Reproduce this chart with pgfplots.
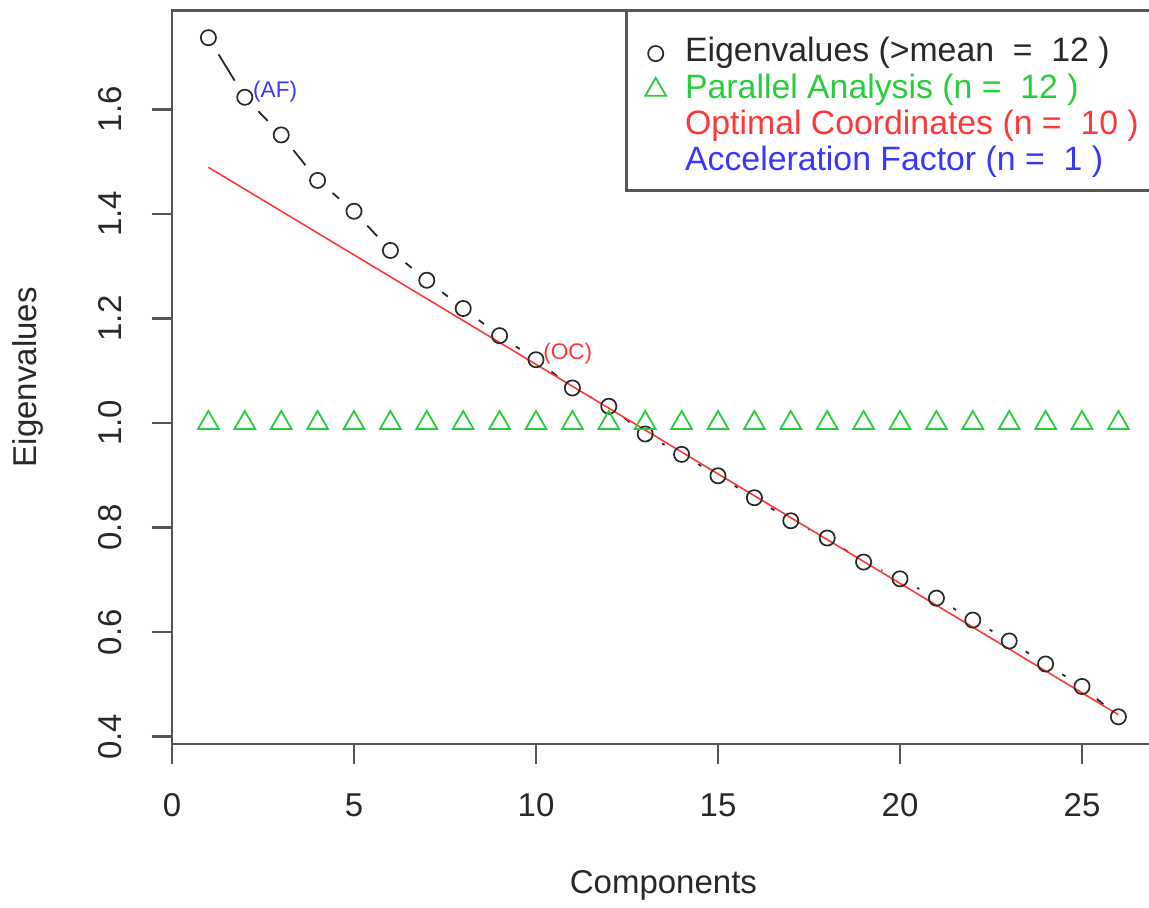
\documentclass[border=0pt]{standalone}
\usepackage{fontspec}
\setmainfont{Liberation Sans}
\usepackage{pgfplots}
\usepackage{pgfplotstable}
\pgfplotsset{compat=1.18}

\definecolor{axgray}{RGB}{85,85,85}
\definecolor{txt}{RGB}{40,40,40}
\definecolor{pagreen}{RGB}{40,205,60}
\definecolor{ocred}{RGB}{255,55,55}
\definecolor{afblue}{RGB}{55,55,255}

% eigenvalues (circles)
\pgfplotstableread{
x y
1 1.737
2 1.623
3 1.551
4 1.464
5 1.405
6 1.330
7 1.273
8 1.219
9 1.167
10 1.121
11 1.067
12 1.032
13 0.979
14 0.940
15 0.899
16 0.857
17 0.813
18 0.780
19 0.734
20 0.702
21 0.665
22 0.623
23 0.583
24 0.539
25 0.496
26 0.438
}\eigtab

% parallel analysis (triangles)
\pgfplotstableread{
x y
1 1
2 1
3 1
4 1
5 1
6 1
7 1
8 1
9 1
10 1
11 1
12 1
13 1
14 1
15 1
16 1
17 1
18 1
19 1
20 1
21 1
22 1
23 1
24 1
25 1
26 1
}\patab

\newcommand{\bigf}{\fontsize{16.5}{20}\selectfont}
\newcommand{\legf}{\fontsize{16.9}{20}\selectfont}
\newcommand{\smallf}{\fontsize{11.3}{13}\selectfont}

\begin{document}
\begin{tikzpicture}
\begin{axis}[
  set layers,
  scale only axis,
  width=491.4pt, height=366.75pt,
  xmin=0, xmax=27, ymin=0.386, ymax=1.789,
  clip=false,
  axis line style={axgray, line width=1.3pt},
  xtick={0,5,10,15,20,25},
  ytick={0.4,0.6,0.8,1.0,1.2,1.4,1.6},
  tick align=outside, major tick length=10pt,
  tick style={axgray, line width=1.3pt},
  xtick pos=left, ytick pos=left,
  tick label style={font=\bigf, text=txt, inner sep=0pt},
  /pgf/number format/assume math mode=true,
  xticklabel style={anchor=north, yshift=-14.5pt},
  yticklabel style={xshift=-15pt, rotate=90, anchor=south,
    /pgf/number format/fixed, /pgf/number format/fixed zerofill,
    /pgf/number format/precision=1},
  xlabel={Components}, ylabel={Eigenvalues},
  every axis x label/.style={at={(rel axis cs:0.5,0)}, yshift=-70.5pt, anchor=center, font=\bigf, text=txt},
  every axis y label/.style={at={(rel axis cs:0,0.5)}, xshift=-72pt, rotate=90, anchor=center, font=\bigf, text=txt},
  legend style={at={(0.4626,1)}, anchor=north west, draw=none, fill=none,
    inner xsep=5.8pt, inner ysep=13.5pt, row sep=2.4pt, font=\legf,
    nodes={inner sep=0pt, text height=12pt, text depth=3.7pt},
    /tikz/every odd column/.append style={column sep=9.5pt}},
  legend cell align=left,
]
% connecting line with gaps round the points, kept under everything else
\addplot[forget plot, on layer=axis background, color=txt, line width=0.9pt] table[x=x,y=y]{\eigtab};
\addplot[forget plot, on layer=axis background, mark layer=axis background,
  only marks, mark=*, mark size=9.5pt, white] table[x=x,y=y]{\eigtab};
% optimal coordinates line
\addplot[forget plot, ocred, line width=0.8pt] coordinates {(1,1.489) (26,0.442)};

\addplot[only marks, mark=o, mark size=3.8pt, txt, mark options={line width=0.85pt}] table[x=x,y=y]{\eigtab};
\addlegendentry{\textcolor{txt}{Eigenvalues (>mean~~=~~12~)}}
\addplot[only marks, mark=triangle, mark size=6pt, pagreen, mark options={line width=0.9pt}] table[x=x,y=y]{\patab};
\addlegendentry{\textcolor{pagreen}{Parallel Analysis (n~=~~12~)}}
\addlegendimage{empty legend}
\addlegendentry{\textcolor{ocred}{Optimal Coordinates (n~=~~10~)}}
\addlegendimage{empty legend}
\addlegendentry{\textcolor{afblue}{Acceleration Factor (n~=~~1~)}}

\draw[axgray, line width=1.3pt] (axis cs:12.49,1.789) rectangle (axis cs:27.5,1.445);
\node[anchor=west, inner sep=0pt, text=afblue, font=\smallf] at (axis cs:2.22,1.633) {(AF)};
\node[anchor=west, inner sep=0pt, text=ocred, font=\smallf] at (axis cs:10.19,1.133) {(OC)};
\end{axis}
\pgfresetboundingbox
\path[use as bounding box] ([xshift=-86pt,yshift=-82pt]current axis.south west) rectangle ++(574.5pt,454pt);
\end{tikzpicture}
\end{document}
